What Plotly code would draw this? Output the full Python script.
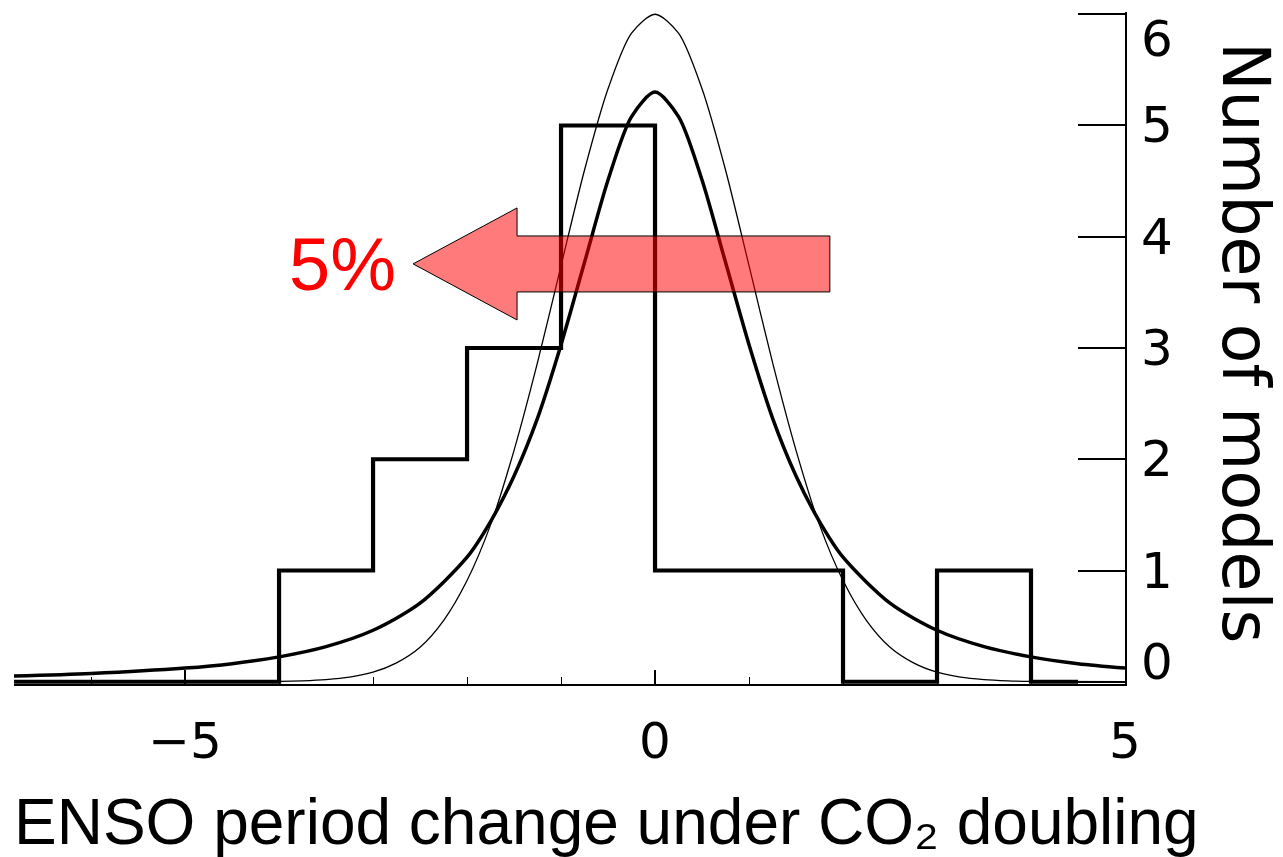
import plotly.graph_objects as go

# ---- data ----
bin_edges = [-4, -3, -2, -1, 0, 1, 2, 3, 4]
model_counts = [1, 2, 3, 5, 1, 1, 0, 1]
hist_x_start = -6.82
hist_x_end = 4.5

# thin (narrow) fitted curve, read at regular x positions
thin_x = [-6.82, -5.0, -4.0, -3.75, -3.5, -3.25, -3.0, -2.75, -2.5, -2.25, -2.0, -1.75,
          -1.5, -1.25, -1.0, -0.75, -0.5, -0.25, 0.0, 0.25, 0.5, 0.75, 1.0, 1.25,
          1.5, 1.75, 2.0, 2.25, 2.5, 2.75, 3.0, 3.25, 3.5, 3.75, 4.0, 5.0]
thin_y = [0.0, 0.0, 0.003, 0.008, 0.019, 0.041, 0.086, 0.17, 0.31, 0.55, 0.91, 1.41,
          2.08, 2.87, 3.74, 4.60, 5.33, 5.83, 6.0, 5.83, 5.33, 4.60, 3.74, 2.87,
          2.08, 1.41, 0.91, 0.55, 0.31, 0.17, 0.086, 0.041, 0.019, 0.008, 0.003, 0.0]

# thick (wide, heavy-tailed) fitted curve
thick_x = [-6.82, -6.0, -5.0, -4.5, -4.0, -3.5, -3.0, -2.5, -2.0, -1.75, -1.5, -1.25,
           -1.0, -0.75, -0.5, -0.25, 0.0, 0.25, 0.5, 0.75, 1.0, 1.25, 1.5, 1.75,
           2.0, 2.5, 3.0, 3.5, 4.0, 4.5, 5.0]
thick_y = [0.051, 0.074, 0.123, 0.163, 0.224, 0.316, 0.463, 0.707, 1.12, 1.44, 1.85, 2.37,
           3.03, 3.77, 4.51, 5.08, 5.30, 5.08, 4.51, 3.77, 3.03, 2.37, 1.85, 1.44,
           1.12, 0.707, 0.463, 0.316, 0.224, 0.163, 0.123]

x_tickvals = [-5, 0, 5]
x_ticktext = ["\u22125", "0", "5"]
y_tickvals = [0, 1, 2, 3, 4, 5, 6]
y_ticktext = ["0", "1", "2", "3", "4", "5", "6"]

# arrow annotation (data coordinates)
arrow_tip = (-2.574, 3.756)
arrow_head_x = -1.468
arrow_head_top, arrow_head_bot = 4.259, 3.252
arrow_shaft_top, arrow_shaft_bot = 4.007, 3.504
arrow_tail_x = 1.86
label_text = "5%"
label_pos = (-3.33, 3.75)

# ---- build figure ----
hx = [hist_x_start] + bin_edges + [hist_x_end]
hy = [0] + model_counts + [0, 0]

fig = go.Figure()
fig.add_trace(go.Scatter(x=hx, y=hy, mode="lines", line=dict(color="black", width=4.2, shape="hv"),
                         showlegend=False, hoverinfo="skip"))
fig.add_trace(go.Scatter(x=thin_x, y=thin_y, mode="lines",
                         line=dict(color="black", width=1.3, shape="spline", smoothing=0.8),
                         showlegend=False))
fig.add_trace(go.Scatter(x=thick_x, y=thick_y, mode="lines",
                         line=dict(color="black", width=3.5, shape="spline", smoothing=0.8),
                         showlegend=False))

path = (f"M {arrow_tail_x},{arrow_shaft_top} L {arrow_head_x},{arrow_shaft_top} "
        f"L {arrow_head_x},{arrow_head_top} L {arrow_tip[0]},{arrow_tip[1]} "
        f"L {arrow_head_x},{arrow_head_bot} L {arrow_head_x},{arrow_shaft_bot} "
        f"L {arrow_tail_x},{arrow_shaft_bot} Z")
fig.add_shape(type="path", path=path, xref="x", yref="y", layer="above",
              fillcolor="rgba(255,0,0,0.52)", line=dict(color="black", width=1))

fig.add_annotation(x=label_pos[0], y=label_pos[1], xref="x", yref="y", text=label_text,
                   showarrow=False, font=dict(family="Liberation Sans, Arial", size=74, color="#ff0000"))

# right-axis tick labels (end labels pulled inward as in the reference)
for v, t in zip(y_tickvals, y_ticktext):
    shift = 0
    if v == max(y_tickvals):
        shift = -25
    elif v == min(y_tickvals):
        shift = 20
    fig.add_annotation(x=1.0, y=v, xref="paper", yref="y", text=t, showarrow=False,
                       xanchor="center", yanchor="middle", xshift=32, yshift=shift,
                       font=dict(family="DejaVu Sans", size=50, color="black"))

fig.add_annotation(x=1.0, y=3.0, xref="paper", yref="y", text="Number of models",
                   showarrow=False, textangle=90, xanchor="center", yanchor="middle",
                   xshift=121, yshift=6,
                   font=dict(family="DejaVu Sans", size=65, color="black"))

fig.add_annotation(x=0.533, y=0, xref="paper", yref="paper", xanchor="center", yanchor="middle",
                   text="ENSO period change under CO\u2082 doubling",
                   showarrow=False, yshift=-138,
                   font=dict(family="Liberation Sans, Arial", size=64, color="black"))

fig.update_layout(
    width=1283, height=857,
    margin=dict(l=14, r=158, t=12, b=173),
    paper_bgcolor="white", plot_bgcolor="white",
    showlegend=False,
    xaxis=dict(range=[-6.82, 5], showgrid=False, zeroline=False,
               showline=True, linecolor="black", linewidth=1.5,
               tickmode="array", tickvals=x_tickvals, ticktext=x_ticktext,
               ticks="inside", ticklen=14, tickwidth=1.5, tickcolor="black",
               minor=dict(dtick=1, tick0=0, ticks="inside", ticklen=7, tickwidth=1.2, tickcolor="black"),
               tickfont=dict(family="DejaVu Sans", size=50, color="black"),
               ticklabelstandoff=12),
    yaxis=dict(range=[-0.02, 6.02], side="right", showgrid=False, zeroline=False,
               showline=True, linecolor="black", linewidth=1.5,
               tickmode="array", tickvals=y_tickvals, showticklabels=False,
               ticks="inside", ticklen=47, tickwidth=1.5, tickcolor="black"),
)

fig.write_html("out.html")
